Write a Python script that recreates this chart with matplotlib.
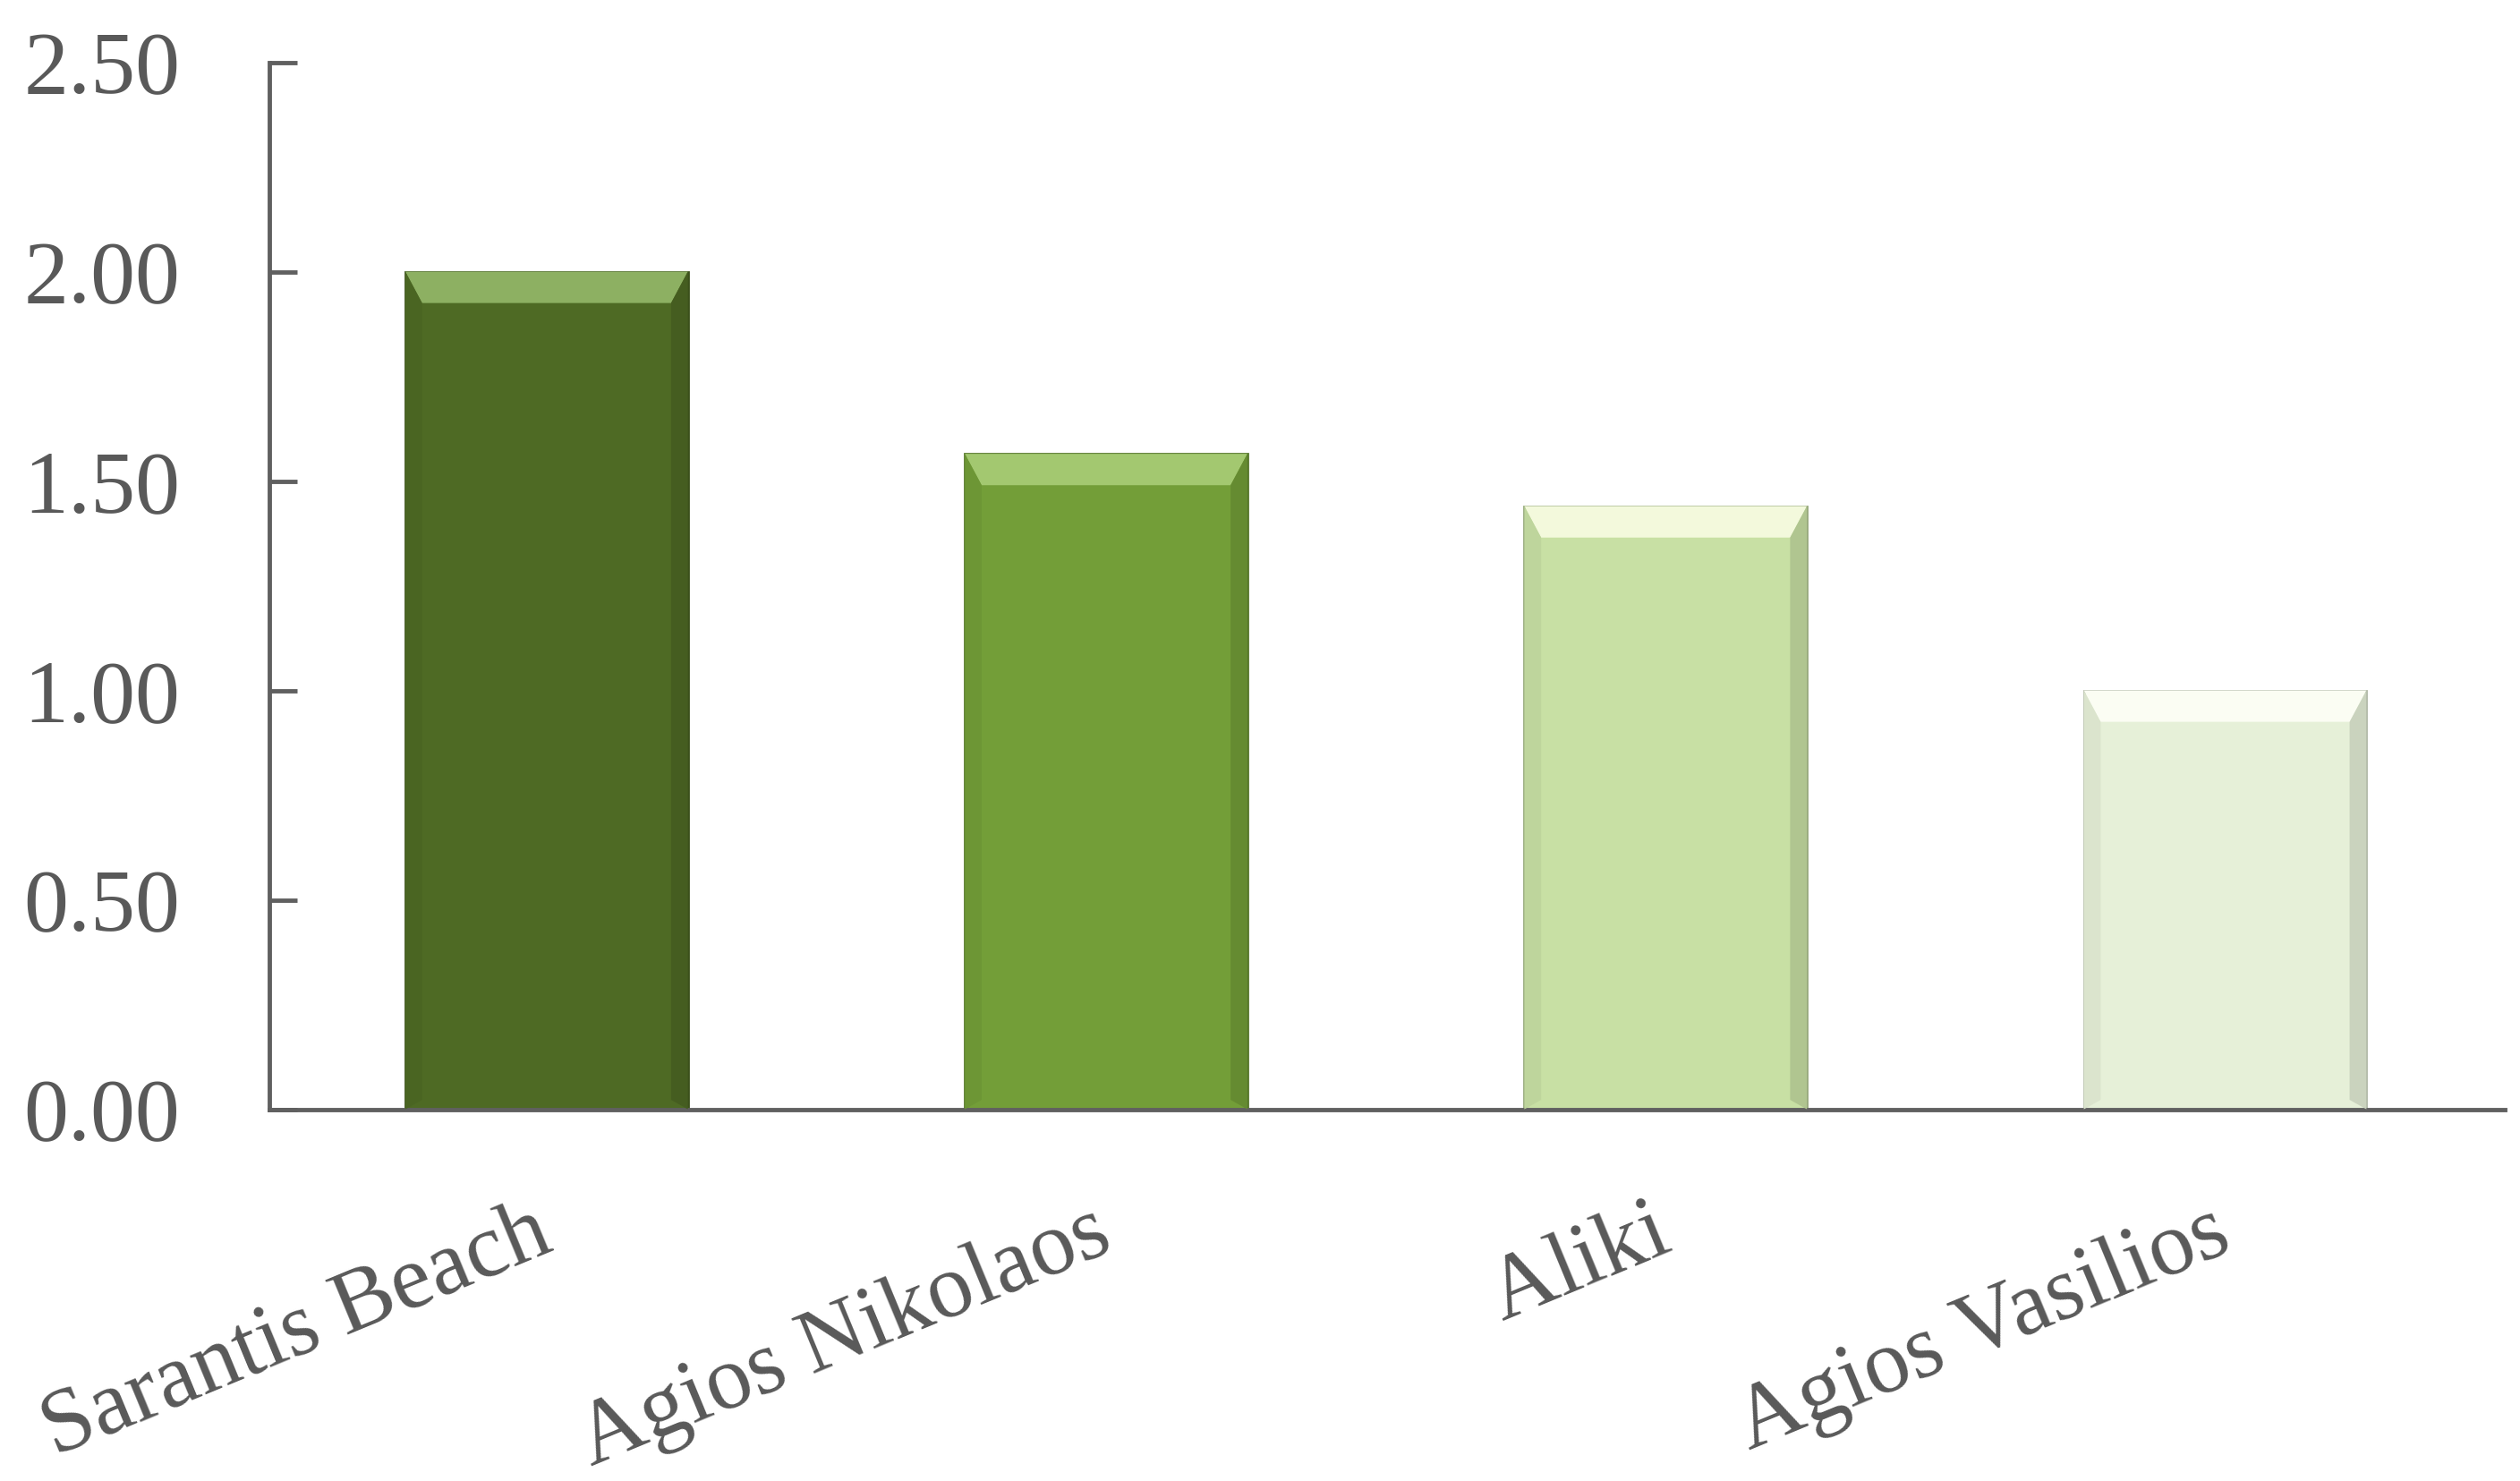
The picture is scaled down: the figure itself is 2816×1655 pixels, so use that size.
import numpy as np
import matplotlib.pyplot as plt
from matplotlib.patches import Polygon
import matplotlib.colors as mcolors

# ========== DATA ==========
sites = ['Sarantis Beach', 'Agios Nikolaos', 'Aliki', 'Agios Vasilios']
values = [2.00, 1.565, 1.44, 1.00]
yticks = [0.0, 0.5, 1.0, 1.5, 2.0, 2.5]

# styles
bar_colors = ['#4E6A24', '#739E38', '#C8E0A4', '#E6F0D8']
top_colors = ['#8DB062', '#A3C870', '#F3F9DC', '#FBFDF3']

plt.rcParams['font.family'] = ['Liberation Serif', 'DejaVu Serif']

# ========== PLOT ==========
fig = plt.figure(figsize=(28.16, 16.55), dpi=100)
ax = fig.add_axes([0.107, 0.251, 0.887, 0.707])

x = np.arange(len(sites))
width = 0.505


def shade(c, f):
    r = np.array(mcolors.to_rgb(c))
    if f >= 0:
        return tuple(r + (1 - r) * f)
    return tuple(r * (1 + f))


bars = ax.bar(x, values, width=width, color=bar_colors, zorder=2,
              edgecolor=[shade(c, -0.25) for c in bar_colors], linewidth=2)

# bevel look: light top band, darker side strips
bh = 0.075
sw = 0.03
for xi, v, c, tc in zip(x, values, bar_colors, top_colors):
    l, r = xi - width / 2, xi + width / 2
    top = Polygon([(l, v), (r, v), (r - sw, v - bh), (l + sw, v - bh)],
                  closed=True, facecolor=tc, edgecolor='none', zorder=3)
    ax.add_patch(top)
    left = Polygon([(l, v), (l + sw, v - bh), (l + sw, bh * 0.3), (l, 0)],
                   closed=True, facecolor=shade(c, -0.05), edgecolor='none', zorder=3)
    ax.add_patch(left)
    right = Polygon([(r, v), (r - sw, v - bh), (r - sw, bh * 0.3), (r, 0)],
                    closed=True, facecolor=shade(c, -0.12), edgecolor='none', zorder=3)
    ax.add_patch(right)

ax.set_xlim(-0.495, 3.5)
ax.set_ylim(0, 2.5)
ax.set_yticks(yticks)
ax.set_yticklabels([f'{t:.2f}' for t in yticks])
ax.set_xticks(x)
ax.set_xticklabels([])

# rotated category labels, right end near the bar centre
for xi, name in zip(x, sites):
    ax.annotate(name, xy=(xi, 0), xycoords=('data', 'axes fraction'),
                xytext=(-12, -66), textcoords='offset points',
                rotation=22.5, rotation_mode='anchor', ha='right', va='top',
                fontsize=73, color='#595959', annotation_clip=False)

for s in ['top', 'right']:
    ax.spines[s].set_visible(False)
for s in ['left', 'bottom']:
    ax.spines[s].set_color('#606060')
    ax.spines[s].set_linewidth(3.5)

ax.tick_params(axis='y', direction='in', length=22, width=3.5, color='#606060',
               labelsize=72, labelcolor='#595959', pad=72)
ax.tick_params(axis='x', length=0)

fig.savefig('out.png', dpi=100, facecolor='white')
